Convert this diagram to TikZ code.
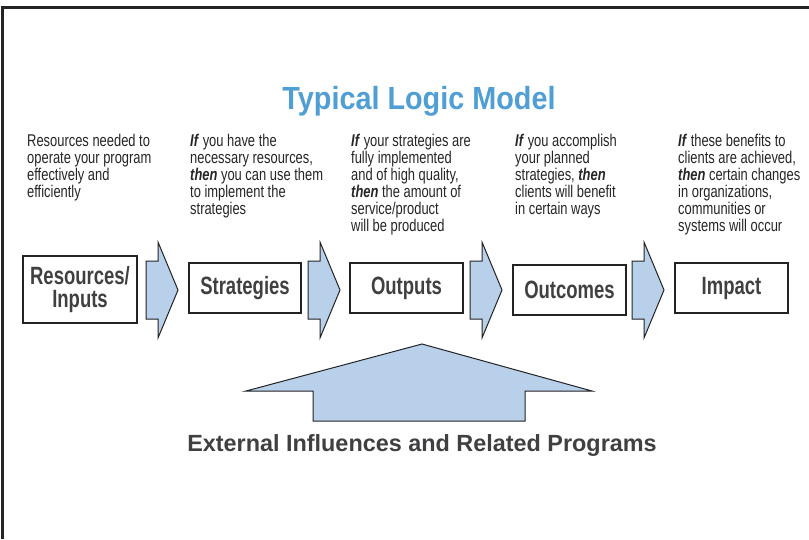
\documentclass[tikz,border=0pt]{standalone}
\usepackage{fontspec}
\setmainfont{Liberation Sans}
\newfontfamily\condfont[FakeStretch=0.76]{Liberation Sans}
\newfontfamily\boxfont[FakeStretch=0.74]{Liberation Sans}
\newfontfamily\titlefont[FakeStretch=0.9]{Liberation Sans}
\definecolor{titleblue}{RGB}{79,158,212}
\definecolor{arrowfill}{RGB}{184,208,234}
\definecolor{textgray}{RGB}{64,64,66}
\definecolor{framegray}{RGB}{35,35,35}
\newcommand{\kwIf}{\textbf{\textit{If}}}
\newcommand{\kwThen}{\textbf{\textit{then}}}
\begin{document}
\begin{tikzpicture}[x=1pt,y=-1pt,
  desc/.style={anchor=north west, inner sep=0pt, align=left, text=black!85,
    font=\condfont\fontsize{17}{17}\selectfont},
  stagebox/.style={draw=framegray, line width=1.3pt, fill=white, inner sep=0pt,
    align=center, text=textgray, minimum width=113pt, minimum height=50pt,
    font=\boxfont\bfseries\fontsize{25}{23}\selectfont},
  blockarrow/.style={draw=framegray, line width=1pt, fill=arrowfill, line join=miter}]
\useasboundingbox (0,0) rectangle (809,539);
\fill[white] (0,0) rectangle (809,539);
% frame
\draw[framegray, line width=3pt] (2.5,539) -- (2.5,7.5) -- (809,7.5);
% title
\node[anchor=base, inner sep=0pt, text=titleblue,
  font=\titlefont\bfseries\fontsize{32}{32}\selectfont] (title) at (419,109) {Typical Logic Model};
% descriptions
\node[desc] (d1) at (27,133.5) {Resources needed to\\operate your program\\effectively and\\efficiently};
\node[desc] (d2) at (190,133.5) {\kwIf{} you have the\\necessary resources,\\\kwThen{} you can use them\\to implement the\\strategies};
\node[desc] (d3) at (351,133.5) {\kwIf{} your strategies are\\fully implemented\\and of high quality,\\\kwThen{} the amount of\\service/product\\will be produced};
\node[desc] (d4) at (515,133.5) {\kwIf{} you accomplish\\your planned\\strategies, \kwThen{}\\clients will benefit\\in certain ways};
\node[desc] (d5) at (678,133.5) {\kwIf{} these benefits to\\clients are achieved,\\\kwThen{} certain changes\\in organizations,\\communities or\\systems will occur};
% boxes
\node[stagebox, minimum width=114pt, minimum height=67pt] (res) at (80,289.5) {Resources/\\Inputs};
\node[stagebox, minimum width=112pt] (str) at (245,288) {Strategies};
\node[stagebox] (out) at (406.5,288) {Outputs};
\node[stagebox] (oc) at (569.5,290) {Outcomes};
\node[stagebox] (imp) at (731.5,288) {Impact};
% arrows between boxes
\foreach \xl in {146,308,470,632}{
  \draw[blockarrow] (\xl,261) -- ({\xl+12},261) -- ({\xl+12},242) -- ({\xl+32},290)
    -- ({\xl+12},338) -- ({\xl+12},319) -- (\xl,319) -- cycle;
}
% big up arrow
\draw[blockarrow] (313,421) -- (313,391) -- (246,391) -- (422,344) -- (592,391)
  -- (525,391) -- (525,421) -- cycle;
\node[anchor=base, inner sep=0pt, text=textgray,
  font=\bfseries\fontsize{23.4}{24}\selectfont] (ext) at (422,451) {External Influences and Related Programs};
\end{tikzpicture}
\end{document}
